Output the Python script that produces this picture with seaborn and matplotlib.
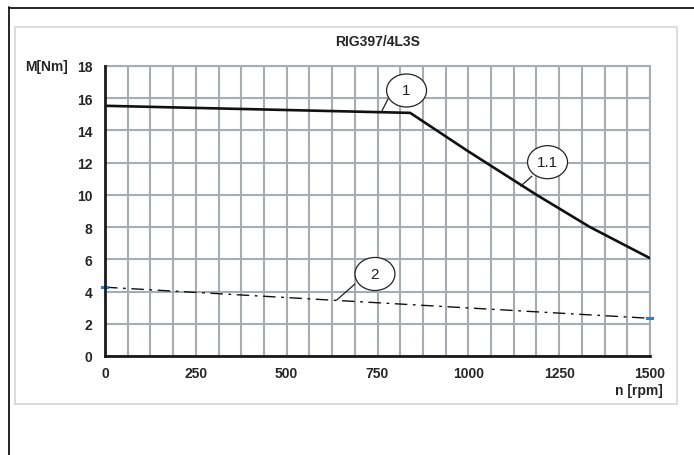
import matplotlib
matplotlib.use("Agg")
import matplotlib.pyplot as plt
from matplotlib.patches import Ellipse, Rectangle
from matplotlib.lines import Line2D
from matplotlib.ticker import MultipleLocator, FixedLocator
import seaborn as sns
import pandas as pd

# ---- data ----
title = "RIG397/4L3S"
curve1_rpm = [0, 840, 1000, 1188, 1335, 1500]
curve1_torque = [15.53, 15.09, 12.7, 10.0, 8.0, 6.07]
curve2_rpm = [0, 1500]
curve2_torque = [4.27, 2.34]
x_ticks = [0, 125, 250, 375, 500, 625, 750, 875, 1000, 1125, 1250, 1375, 1500]
x_ticklabels = ["0", "", "250", "", "500", "", "750", "", "1000", "", "1250", "", "1500"]
y_ticks = [0, 2, 4, 6, 8, 10, 12, 14, 16, 18]
# callouts: label, ellipse centre (rpm, Nm), leader start, leader end
callout_labels = ["1", "1.1", "2"]
callout_centres = [(830, 16.48), (1218, 12.03), (743, 5.09)]
callout_leader_from = [(779, 15.96), (1175, 11.16), (688, 4.47)]
callout_leader_to = [(762, 15.2), (1144, 10.54), (638, 3.48)]

sns.set_theme(style="white")
plt.rcParams["font.family"] = ["Liberation Sans", "DejaVu Sans"]

W, H = 694, 456
fig = plt.figure(figsize=(W / 100, H / 100), dpi=100)

# outer frame lines and inner panel
fig.add_artist(Line2D([8.5 / W, 8.5 / W], [0, 1 - 8 / H], color="black", lw=1.2))
fig.add_artist(Line2D([8.5 / W, 1], [1 - 8.5 / H, 1 - 8.5 / H], color="black", lw=1.2))
fig.add_artist(Rectangle((15 / W, 1 - 405 / H), (677 - 15) / W, (405 - 28) / H,
                         transform=fig.transFigure, fill=False, edgecolor="#d6d6d6", lw=1.2))

ax = fig.add_axes([105 / W, (H - 357) / H, 545 / W, 290 / H])

df1 = pd.DataFrame({"rpm": curve1_rpm, "M": curve1_torque})
df2 = pd.DataFrame({"rpm": curve2_rpm, "M": curve2_torque})

grid_col = "#a4acb4"
ax.set_xlim(0, 1500)
ax.set_ylim(0, 18)
ax.xaxis.set_major_locator(FixedLocator(x_ticks))
ax.set_xticklabels(x_ticklabels)
ax.xaxis.set_minor_locator(MultipleLocator(62.5))
ax.set_yticks(y_ticks)
ax.grid(True, which="both", color=grid_col, lw=1.5)
ax.set_axisbelow(True)
ax.tick_params(axis="x", which="minor", length=0)
ax.tick_params(axis="both", which="major", length=4, width=1.5, color="#222222",
               direction="out", labelsize=10)
ax.tick_params(axis="x", which="major", pad=3)
ax.tick_params(axis="y", which="major", pad=5)

sns.lineplot(data=df1, x="rpm", y="M", ax=ax, color="#111111", lw=1.9, zorder=4)
sns.lineplot(data=df2, x="rpm", y="M", ax=ax, color="#111111", lw=1.0,
             linestyle=(0, (9, 4, 2, 4)), zorder=4)
rect_marker = [(-1.6, -0.7), (1.6, -0.7), (1.6, 0.7), (-1.6, 0.7), (-1.6, -0.7)]
sns.scatterplot(data=df2, x="rpm", y="M", ax=ax, marker=rect_marker, s=30, color="#2a7fd4",
                edgecolor="none", zorder=5, clip_on=False)

for lab in ax.get_xticklabels() + ax.get_yticklabels():
    lab.set_fontweight("bold")

for s in ["top", "right"]:
    ax.spines[s].set_visible(True)
    ax.spines[s].set_color(grid_col)
    ax.spines[s].set_linewidth(1.5)
for s in ["left", "bottom"]:
    ax.spines[s].set_color("#1a1a1a")
    ax.spines[s].set_linewidth(2.0)
    ax.spines[s].set_zorder(6)

ax.set_xlabel("")
ax.set_ylabel("")

# callouts
for lab, c, p0, p1 in zip(callout_labels, callout_centres, callout_leader_from, callout_leader_to):
    ax.add_patch(Ellipse(c, width=110, height=2.05, facecolor="white", edgecolor="#222222",
                         lw=0.9, zorder=7))
    ax.text(c[0], c[1], lab, ha="center", va="center", fontsize=11, color="#222222", zorder=8)
    ax.plot([p0[0], p1[0]], [p0[1], p1[1]], color="#222222", lw=0.9, zorder=7)

fig.text(378 / W, 1 - 42 / H, title, ha="center", va="center", fontsize=10, fontweight="bold")
fig.text(68 / W, 1 - 67 / H, "M[Nm]", ha="right", va="center", fontsize=10, fontweight="bold")
fig.text(663 / W, 1 - 391 / H, "n [rpm]", ha="right", va="center", fontsize=10, fontweight="bold")

fig.savefig("out.png", dpi=100)
